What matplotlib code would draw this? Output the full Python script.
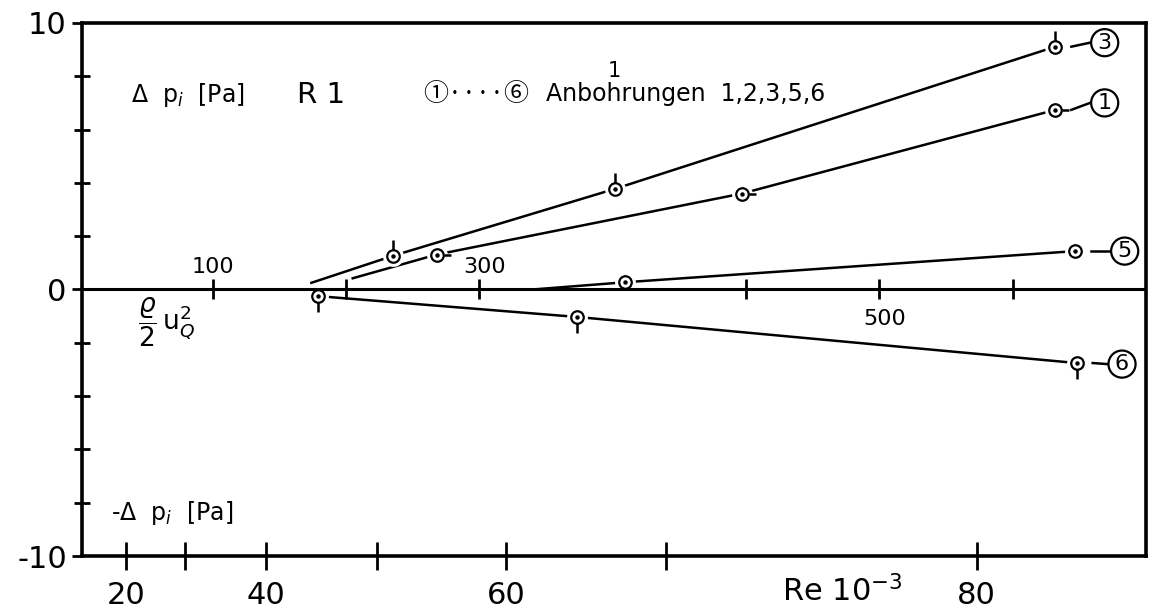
# Druckdifferenz an den Anbohrungen ueber dem Staudruck, Rohr R1
import numpy as np
import matplotlib.pyplot as plt
from matplotlib.path import Path
from matplotlib.transforms import blended_transform_factory

# Messreihen, vom Diagramm abgelesen
# x: rho/2 u_Q^2 [Pa], y: Delta p_i [Pa]; erster Wert von Reihe 3, 1, 5 = Linienanfang
q3 = [174, 235, 402, 732]
dp3 = [0.25, 1.26, 3.78, 9.11]
q1 = [205, 268, 497, 732]
dp1 = [0.42, 1.31, 3.60, 6.74]
q5 = [340, 409, 747]
dp5 = [0.0, 0.27, 1.44]
q6 = [179, 373, 748]
dp6 = [-0.25, -1.03, -2.76]

# Achsbeschriftungen
re_tick_q = [35, 79, 140, 223, 320, 440, 673]
re_labels = ['20', '', '40', '', '60', '', '80']
q_ticks = [100, 200, 300, 500, 600, 700]
q_label_text = ['100', '300', '500']
q_label_pos = [100, 304, 604]
y_major = [-10, 0, 10]
y_labels = ['-10', '0', '10']
y_minor = [-8, -6, -4, -2, 2, 4, 6, 8]

plt.rcParams['font.family'] = ['DejaVu Sans', 'Noto Sans CJK JP']

fig = plt.figure(figsize=(11.59, 6.12), dpi=100)
ax = fig.add_axes([0.0708, 0.0915, 0.918, 0.871])
ax.set_xlim(2, 800)
ax.set_ylim(-10, 10)

for s in ax.spines.values():
    s.set_linewidth(2.6)

# Nulllinie mit Staudruck-Skala
ax.axhline(0, color='black', lw=2.2, zorder=3.5)
ax.plot(q_ticks, np.zeros(len(q_ticks)), ls='none', marker='|', ms=15,
        mew=2, color='black', zorder=3.5)
ax.text(q_label_pos[0], 0.45, q_label_text[0], ha='center', va='bottom', fontsize=16)
ax.text(q_label_pos[1], 0.45, q_label_text[1], ha='center', va='bottom', fontsize=16)
ax.text(q_label_pos[2], -0.75, q_label_text[2], ha='center', va='top', fontsize=16)

# Re-Skala unten
ax.set_xticks(re_tick_q)
ax.set_xticklabels(re_labels, fontsize=22)
ax.tick_params(axis='x', direction='inout', length=20, width=2, pad=8)
ax.set_yticks(y_major)
ax.set_yticklabels(y_labels, fontsize=22)
ax.set_yticks(y_minor, minor=True)
ax.tick_params(axis='y', which='major', direction='out', length=7, width=2, pad=4)
ax.tick_params(axis='y', which='minor', direction='inout', length=11, width=2)

# Marker mit Faehnchen
stem_up = Path([(0, 0.39), (0, 1.0)], [Path.MOVETO, Path.LINETO])
stem_down = Path([(0, -0.39), (0, -1.0)], [Path.MOVETO, Path.LINETO])
dash_right = Path([(0.5, 0), (1.0, 0)], [Path.MOVETO, Path.LINETO])

series = [
    (q3, dp3, 1, stem_up, 23),
    (q1, dp1, 1, dash_right, 20),
    (q5, dp5, 1, None, 0),
    (q6, dp6, 0, stem_down, 23),
]
for qq, dd, first, flag, fms in series:
    ax.plot(qq, dd, color='black', lw=1.8, zorder=2)
    xs, ys = qq[first:], dd[first:]
    ax.plot(xs, ys, ls='none', marker='o', ms=15, mfc='white', mec='none', zorder=3)
    if flag is not None:
        ax.plot(xs, ys, ls='none', marker=flag, ms=fms, mec='black', mew=1.8, zorder=4)
    ax.plot(xs, ys, ls='none', marker='o', ms=9, mfc='white', mec='black', mew=1.6, zorder=5)
    ax.plot(xs, ys, ls='none', marker='o', ms=2.2, color='black', zorder=6)

# Kreisnummern rechts
lab_num = ['3', '1', '5', '6']
lab_q = [769, 769, 784, 782]
lab_dp = [9.26, 7.0, 1.44, -2.8]
ends = [(q3[-1], dp3[-1]), (q1[-1], dp1[-1]), (q5[-1], dp5[-1]), (q6[-1], dp6[-1])]
for n, lq, ld, (eq, ed) in zip(lab_num, lab_q, lab_dp, ends):
    ax.plot([eq + 12, lq - 11], [ed, ld], color='black', lw=1.8, zorder=2)
    ax.text(lq, ld, n, ha='center', va='center', fontsize=16, zorder=7,
            bbox=dict(boxstyle='circle,pad=0.16', fc='white', ec='black', lw=1.6))

# Texte
ax.text(39, 7.3, r'$\Delta$  p$_{i}$  [Pa]', ha='left', va='center', fontsize=17)
ax.text(163, 7.3, 'R 1', ha='left', va='center', fontsize=21)
ax.text(258, 7.35, '①····⑥', ha='left', va='center', fontsize=18,
        family=['Noto Sans CJK JP', 'DejaVu Sans'])
ax.text(350, 7.35, 'Anbohrungen  1,2,3,5,6', ha='left', va='center', fontsize=17)
ax.text(401, 8.2, '1', ha='center', va='center', fontsize=15)
ax.text(44, -1.25, r'$\dfrac{\varrho}{2}\,\mathrm{u}_Q^2$', ha='left', va='center', fontsize=19)
ax.text(24, -8.4, r'-$\Delta$  p$_{i}$  [Pa]', ha='left', va='center', fontsize=17)

trans = blended_transform_factory(ax.transData, ax.transAxes)
ax.text(527, -0.065, r'Re 10$^{-3}$', transform=trans, ha='left', va='center', fontsize=22)

fig.savefig('out.png', dpi=100, facecolor='white')
